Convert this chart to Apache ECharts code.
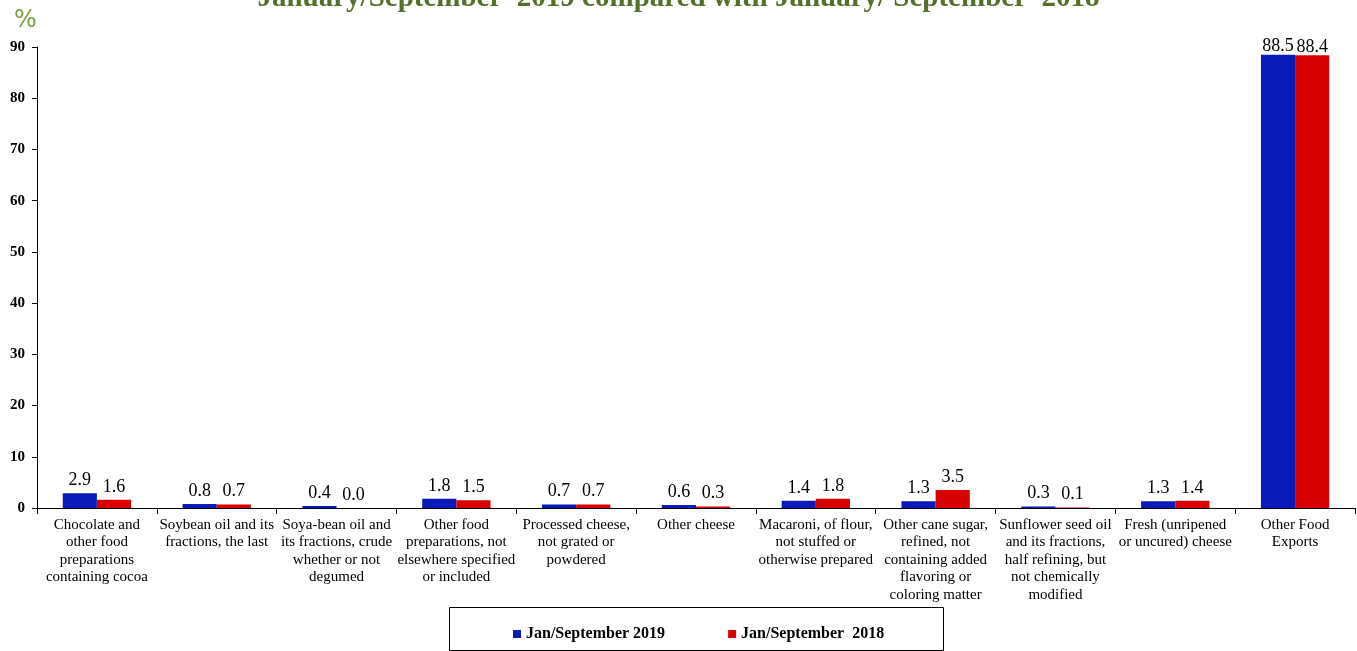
<!DOCTYPE html>
<html><head><meta charset="utf-8">
<script src="https://cdn.jsdelivr.net/npm/echarts@6/dist/echarts.min.js"></script>
<style>html,body{margin:0;padding:0;background:#fff}#c{width:1357px;height:651px}</style>
</head><body><div id="c"></div>
<script>
var categories = [
  'Chocolate and\nother food\npreparations\ncontaining cocoa',
  'Soybean oil and its\nfractions, the last',
  'Soya-bean oil and\nits fractions, crude\nwhether or not\ndegumed',
  'Other food\npreparations, not\nelsewhere specified\nor included',
  'Processed cheese,\nnot grated or\npowdered',
  'Other cheese',
  'Macaroni, of flour,\nnot stuffed or\notherwise prepared',
  'Other cane sugar,\nrefined, not\ncontaining added\nflavoring or\ncoloring matter',
  'Sunflower seed oil\nand its fractions,\nhalf refining, but\nnot chemically\nmodified',
  'Fresh (unripened\nor uncured) cheese',
  'Other Food\nExports'
];
var values2019 = [2.9, 0.8, 0.4, 1.8, 0.7, 0.6, 1.4, 1.3, 0.3, 1.3, 88.5];
var values2018 = [1.6, 0.7, 0.0, 1.5, 0.7, 0.3, 1.8, 3.5, 0.1, 1.4, 88.4];
var yTicks = [0, 10, 20, 30, 40, 50, 60, 70, 80, 90];

var serif = '"Liberation Serif", "Times New Roman", serif';
var chart = echarts.init(document.getElementById('c'));
var labelCfg = {show: true, position: 'top', distance: 4, color: '#000', fontFamily: serif, fontSize: 18,
  formatter: function (p) { return p.value.toFixed(1); }};
function withLabels(arr) {
  return arr.map(function (v) { return v > 80 ? {value: v, label: {distance: -1}} : v; });
}
chart.setOption({
  animation: false,
  title: {text: 'January/September  2019 compared with January/ September  2018', left: 'center', top: -21,
    textStyle: {fontFamily: serif, fontSize: 29, fontWeight: 'bold', color: '#55702a'}},
  graphic: [
    {type: 'text', left: 14, top: 9, style: {text: '%', font: '24px "DejaVu Sans", sans-serif', fill: '#77a040',
      shadowColor: 'rgba(0,0,0,0.35)', shadowBlur: 2, shadowOffsetX: 1, shadowOffsetY: 1}},
    {type: 'rect', shape: {x: 449.5, y: 607.5, width: 494, height: 43}, style: {fill: 'none', stroke: '#000', lineWidth: 1}}
  ],
  legend: {top: 621, left: 508, icon: 'rect', itemWidth: 8, itemHeight: 8, itemGap: 63,
    textStyle: {fontFamily: serif, fontSize: 16, fontWeight: 'bold', color: '#000', padding: [0, 0, 0, 0]},
    data: ['Jan/September 2019', 'Jan/September  2018']},
  grid: {left: 37, right: 2, top: 47, bottom: 143},
  xAxis: {type: 'category', data: categories,
    axisLine: {lineStyle: {color: '#000', width: 1}},
    axisTick: {show: true, length: 6, lineStyle: {color: '#000'}},
    axisLabel: {interval: 0, color: '#000', fontFamily: serif, fontSize: 15, lineHeight: 17.5, margin: 8}},
  yAxis: {type: 'value', min: 0, max: 90, interval: 10,
    axisLine: {show: true, lineStyle: {color: '#000'}},
    axisTick: {show: true, length: 5, lineStyle: {color: '#000'}},
    splitLine: {show: false},
    axisLabel: {color: '#000', fontFamily: serif, fontSize: 15, fontWeight: 'bold', margin: 12,
      formatter: function (v) { return yTicks.indexOf(v) >= 0 ? String(v) : ''; }}},
  series: [
    {name: 'Jan/September 2019', type: 'bar', data: withLabels(values2019), barGap: '0%', barCategoryGap: '43%',
      itemStyle: {color: '#0a1ab8'}, label: labelCfg},
    {name: 'Jan/September  2018', type: 'bar', data: withLabels(values2018),
      itemStyle: {color: '#d80000'}, label: labelCfg}
  ]
});
</script></body></html>
